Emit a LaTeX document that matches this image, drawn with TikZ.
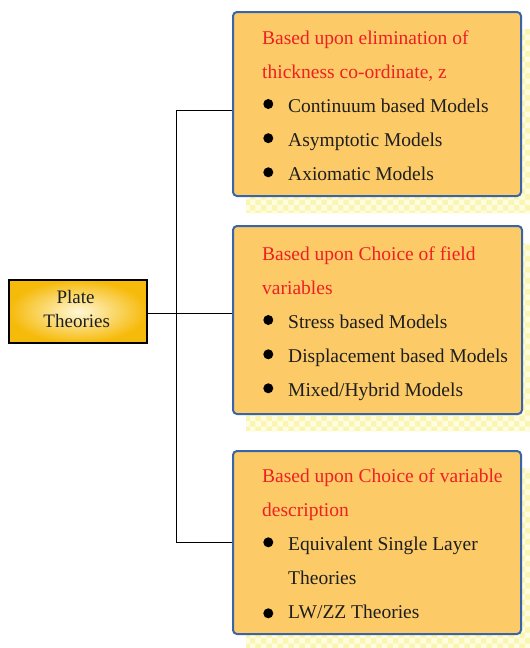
\documentclass[tikz,border=0pt]{standalone}
\usepackage{fontspec}
\setmainfont{Liberation Serif}
\usetikzlibrary{patterns}
\definecolor{boxfill}{RGB}{252,203,104}
\definecolor{boxedge}{RGB}{58,100,168}
\definecolor{shadfill}{RGB}{250,246,178}
\definecolor{shadcheck}{RGB}{255,253,225}
\definecolor{redtxt}{RGB}{238,32,36}
\definecolor{goldout}{RGB}{246,186,10}
\definecolor{goldin}{RGB}{255,248,215}
\definecolor{txt}{RGB}{30,30,30}
\tikzset{
  catbox/.style={draw=boxedge, line width=2pt, fill=boxfill, rounded corners=4pt, inner sep=0pt},
  shadowbox/.style={fill=shadfill, draw=none},
  checks/.style={pattern=checkerboard, pattern color=shadcheck},
  rootbox/.style={draw=black, line width=1.3pt, inner sep=0pt, inner color=goldin, outer color=goldout,
    minimum width=138pt, minimum height=63pt},
  roottxt/.style={anchor=base, inner sep=0pt, text=txt, font=\fontsize{19}{24}\selectfont},
  head/.style={anchor=base west, inner sep=0pt, text=redtxt, font=\fontsize{19.5}{23}\selectfont},
  item/.style={anchor=base west, inner sep=0pt, text=txt, font=\fontsize{19.5}{23}\selectfont},
  dot/.style={circle, fill=black, inner sep=0pt, minimum size=10pt},
  conn/.style={draw=black, line width=1pt}
}
\begin{document}
\begin{tikzpicture}[x=1pt,y=-1pt]
\useasboundingbox (0,0) rectangle (530,648);
% shadows
\path[shadowbox] (246,29) rectangle (530,213);
\path[checks] (246,29) rectangle (530,213);
\path[shadowbox] (246,243) rectangle (530,431);
\path[checks] (246,243) rectangle (530,431);
\path[shadowbox] (246,468) rectangle (530,648);
\path[checks] (246,468) rectangle (530,648);
% boxes
\node[catbox, minimum width=288pt, minimum height=184pt] (b1) at (377,104) {};
\node[catbox, minimum width=289pt, minimum height=188pt] (b2) at (377.5,320) {};
\node[catbox, minimum width=288pt, minimum height=183pt] (b3) at (377,542.5) {};
% root
\node[rootbox] (root) at (78,311.5) {};
\node[roottxt] (rt1) at (75.5,303.5) {Plate};
\node[roottxt] (rt2) at (76.7,327) {Theories};
% connectors
\coordinate (j) at (176,313);
\coordinate (t1) at (176,110);
\coordinate (t3) at (176,542);
\draw[conn] (root.east |- j) -- (j);
\draw[conn] (t1) -- (t3);
\draw[conn] (t1) -- (t1 -| b1.west);
\draw[conn] (j) -- (j -| b2.west);
\draw[conn] (t3) -- (t3 -| b3.west);
% box 1 text
\node[head] (h11) at (262,44.3) {Based upon elimination of};
\node[head] (h12) at (262,78.3) {thickness co-ordinate, z};
\node[dot] (d11) at (268.3,104) {};
\node[item] (i11) at (288,112.3) {Continuum based Models};
\node[dot] (d12) at (268.3,138.2) {};
\node[item] (i12) at (288,146.3) {Asymptotic Models};
\node[dot] (d13) at (268.3,172.3) {};
\node[item] (i13) at (288,180.3) {Axiomatic Models};
% box 2 text
\node[head] (h21) at (262,260) {Based upon Choice of field};
\node[head] (h22) at (262,294) {variables};
\node[dot] (d21) at (268.3,320) {};
\node[item] (i21) at (288,328.3) {Stress based Models};
\node[dot] (d22) at (268.3,354.3) {};
\node[item] (i22) at (288,362) {Displacement based Models};
\node[dot] (d23) at (268.3,388.3) {};
\node[item] (i23) at (288,396) {Mixed/Hybrid Models};
% box 3 text
\node[head] (h31) at (262,482.8) {Based upon Choice of variable};
\node[head] (h32) at (262,516.8) {description};
\node[dot] (d31) at (268.3,542.3) {};
\node[item] (i31) at (288,550.8) {Equivalent Single Layer};
\node[item] (i32) at (288,584.8) {Theories};
\node[dot] (d32) at (268.3,613.3) {};
\node[item] (i33) at (288,618.8) {LW/ZZ Theories};
\end{tikzpicture}
\end{document}
